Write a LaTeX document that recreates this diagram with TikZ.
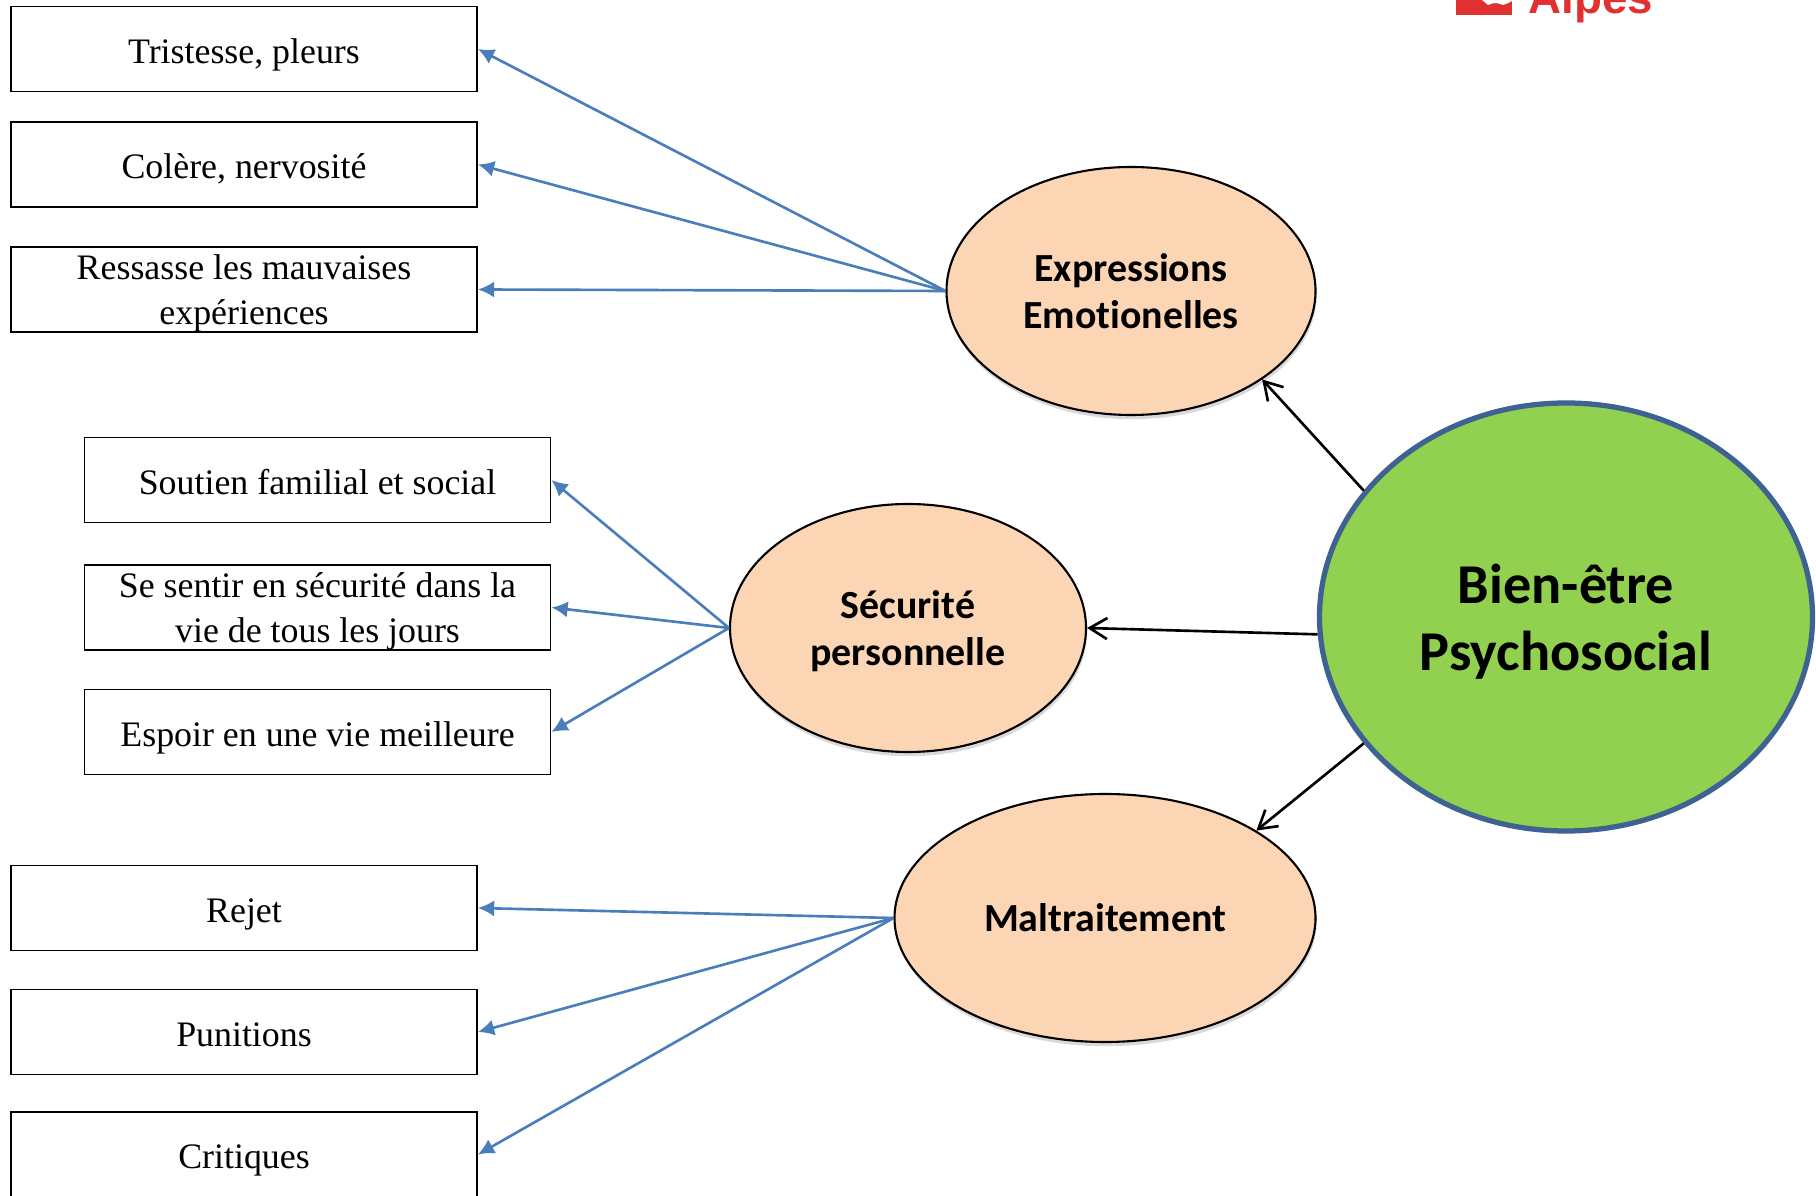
\documentclass[tikz,border=0pt]{standalone}
\usepackage{fontspec}
\setmainfont{Liberation Serif}
\newfontfamily\calib[Ligatures=NoCommon]{Carlito}
\newfontfamily\logofont{Liberation Sans}
\usetikzlibrary{arrows.meta,shapes.geometric,shadows}
\definecolor{peach}{HTML}{FCD5B5}
\definecolor{leaf}{HTML}{92D050}
\definecolor{rim}{HTML}{3E6392}
\definecolor{wire}{HTML}{4A7EBB}
\definecolor{logored}{HTML}{E03030}
\tikzset{
    lowered/.style={execute at begin node={\rule[-2.2pt]{0pt}{#1}}},
    itembox/.style={draw, line width=0.55pt, minimum width=4.66cm, minimum height=0.85cm, inner sep=0pt, align=center, font=\fontsize{10.2}{12.6}\selectfont, lowered=12.6pt},
    themeoval/.style={ellipse, draw, line width=0.6pt, fill=peach, inner sep=0pt, align=center, font=\calib\bfseries\fontsize{11.35}{13.5}\selectfont, drop shadow={shadow xshift=0.3pt, shadow yshift=-1.2pt, opacity=0.3}},
    wirearrow/.style={draw=wire, line width=0.75pt, -{Latex[length=4.6pt, width=4.6pt]}},
    mainarrow/.style={line width=0.75pt, -{Straight Barb[length=5pt, width=6pt]}}
}

\begin{document}
\begin{tikzpicture}
    \clip (0,0) rectangle (18.16,11.95);

    % logo
    \fill[logored] (14.56,11.80) rectangle (15.12,11.95);
    \fill[white] (14.82,11.95) -- (14.88,11.90) .. controls (14.94,11.93) and (14.98,11.92) .. (15.03,11.90) .. controls (15.06,11.91) and (15.09,11.92) .. (15.12,11.94) -- (15.12,11.95) -- cycle;
    \node[text=logored, anchor=base west, inner sep=0pt, font=\logofont\bfseries\fontsize{13}{13}\selectfont] (alpes) at (15.28,11.81) {Alpes};

    % main
    \node[ellipse, draw=rim, line width=1.5pt, fill=leaf, minimum width=4.93cm, minimum height=4.28cm, inner sep=0pt, align=center, font=\calib\bfseries\fontsize{16}{19.2}\selectfont, execute at begin node={\rule{0pt}{33pt}}] (bien) at (15.66,5.78) {Bien-être\\Psychosocial};

    % themes
    \node[themeoval, minimum width=3.69cm, minimum height=2.48cm] (expr) at (11.31,9.04) {Expressions\\Emotionelles};
    \node[themeoval, minimum width=3.56cm, minimum height=2.48cm, execute at begin node={\rule{0pt}{23.2pt}}] (secu) at (9.08,5.67) {Sécurité\\personnelle};
    \node[themeoval, minimum width=4.21cm, minimum height=2.48cm] (malt) at (11.05,2.77) {Maltraitement};

    % items
    \node[itembox] (trist) at (2.44,11.46) {Tristesse, pleurs};
    \node[itembox] (colere) at (2.44,10.305) {Colère, nervosité};
    \node[itembox, lowered=24.1pt] (ressasse) at (2.44,9.055) {Ressasse les mauvaises\\expériences};

    \node[itembox] (soutien) at (3.175,7.15) {Soutien familial et social};
    \node[itembox, lowered=24.1pt] (sentir) at (3.175,5.875) {Se sentir en sécurité dans la\\vie de tous les jours};
    \node[itembox] (espoir) at (3.175,4.63) {Espoir en une vie meilleure};

    \node[itembox] (rejet) at (2.44,2.87) {Rejet};
    \node[itembox] (punit) at (2.44,1.63) {Punitions};
    \node[itembox] (crit) at (2.44,0.405) {Critiques};

    % main to themes
    \draw[mainarrow] (bien.148) -- (expr.-34);
    \draw[mainarrow] (bien.184.3) -- (secu.east);
    \draw[mainarrow] (bien.212) -- (malt.30.7);

    % themes to items
    \foreach \item in {trist, colere, ressasse}
        \draw[wirearrow] (expr.west) -- (\item.east);
    \foreach \item in {soutien, sentir, espoir}
        \draw[wirearrow] (secu.west) -- (\item.east);
    \foreach \item in {rejet, punit, crit}
        \draw[wirearrow] (malt.west) -- (\item.east);
\end{tikzpicture}
\end{document}
